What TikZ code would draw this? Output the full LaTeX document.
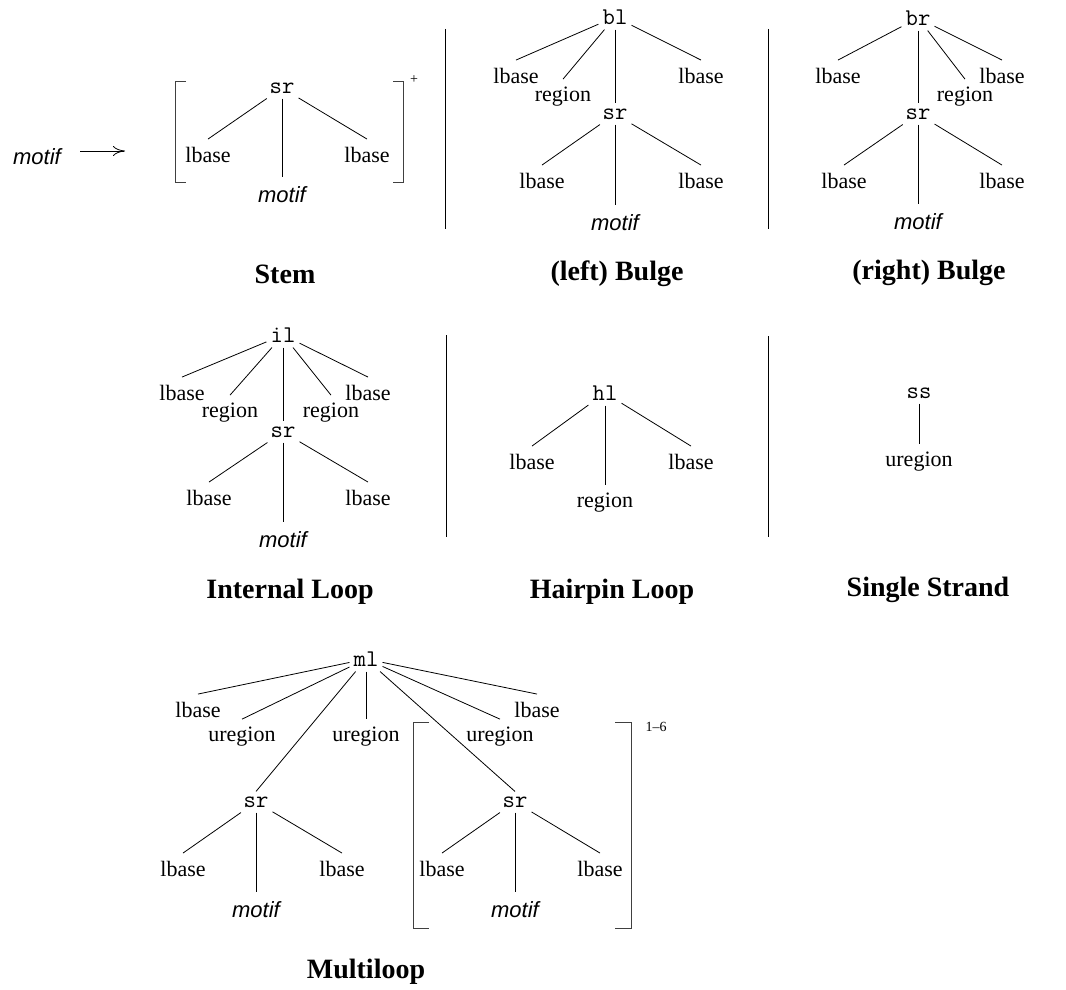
\documentclass[tikz,border=0pt]{standalone}
\usepackage{fontspec}
\setmainfont{Liberation Serif}
\newfontfamily\motiffamily{Liberation Sans}
\usetikzlibrary{arrows.meta}

\newcommand{\lblsize}{\fontsize{22pt}{24pt}\selectfont}
\newcommand{\ntsize}{\fontsize{24pt}{26pt}\selectfont}
\newcommand{\ttlsize}{\fontsize{28pt}{30pt}\selectfont}
\newcommand{\supsize}{\fontsize{14pt}{16pt}\selectfont}

\begin{document}
\begin{tikzpicture}[
    x=1pt, y=-1pt,
    lbl/.style={font=\lblsize, inner xsep=2pt, inner ysep=8pt},
    nt/.style={font=\ntsize\ttfamily, inner xsep=4pt, inner ysep=5pt},
    mot/.style={font=\lblsize\motiffamily\itshape, inner xsep=2pt, inner ysep=10pt},
    ttl/.style={font=\ttlsize\bfseries},
    supr/.style={font=\supsize, inner sep=0pt},
    branch/.style={line width=0.8pt},
    divider/.style={line width=0.8pt},
    brk/.style={line width=0.8pt, black!75},
    arrow/.style={line width=0.8pt, -{To[length=12pt, width=10pt]}}
]
\useasboundingbox (0,0) rectangle (1066,990);

% Stem
\node (motifL) [mot] at (37,157) {motif};
\coordinate (arrowStart) at (80,151);
\coordinate (arrowEnd) at (125,151);
\draw[arrow] (arrowStart) -- (arrowEnd);
\node (sr1) [nt] at (282,88) {sr};
\node (lb1a) [lbl] at (208,155) {lbase};
\node (lb1b) [lbl] at (367,155) {lbase};
\node (mo1) [mot] at (282,195) {motif};
\foreach \c in {lb1a, mo1, lb1b} \draw[branch] (sr1) -- (\c.north);
\draw[brk] (186,81) -- (175,81) -- (175,182) -- (186,182);
\draw[brk] (393,81) -- (403,81) -- (403,182) -- (393,182);
\node (plus) [supr] at (414,80) {+};
\node (tStem) [ttl] at (285,274) {Stem};

\draw[divider] (445,29) -- (445,229);

% (left) Bulge
\node (bl) [nt] at (615,17) {bl};
\node (lb2a) [lbl] at (516,76) {lbase};
\node (rg2) [lbl] at (563,97) {region};
\node (lb2b) [lbl] at (701,76) {lbase};
\node (sr2) [nt] at (615,114) {sr};
\node (lb2c) [lbl] at (542,181) {lbase};
\node (lb2d) [lbl] at (701,181) {lbase};
\node (mo2) [mot] at (615,223) {motif};
\foreach \c in {lb2a, rg2, sr2, lb2b} \draw[branch] (bl) -- (\c.north);
\foreach \c in {lb2c, mo2, lb2d} \draw[branch] (sr2) -- (\c.north);
\node (tLeft) [ttl] at (617,274) {(left) Bulge};

\draw[divider] (768,29) -- (768,229);

% (right) Bulge
\node (br) [nt] at (918,18) {br};
\node (lb3a) [lbl] at (838,76) {lbase};
\node (rg3) [lbl] at (965,97) {region};
\node (lb3b) [lbl] at (1002,76) {lbase};
\node (sr3) [nt] at (918,114) {sr};
\node (lb3c) [lbl] at (844,181) {lbase};
\node (lb3d) [lbl] at (1002,181) {lbase};
\node (mo3) [mot] at (918,222) {motif};
\foreach \c in {lb3a, sr3, rg3, lb3b} \draw[branch] (br) -- (\c.north);
\foreach \c in {lb3c, mo3, lb3d} \draw[branch] (sr3) -- (\c.north);
\node (tRight) [ttl] at (929,273) {(right) Bulge};

% Internal Loop
\node (il) [nt] at (283,335) {il};
\node (lb4a) [lbl] at (182,393) {lbase};
\node (rg4a) [lbl] at (230,413) {region};
\node (rg4b) [lbl] at (331,413) {region};
\node (lb4b) [lbl] at (368,393) {lbase};
\node (sr4) [nt] at (283,432) {sr};
\node (lb4c) [lbl] at (209,498) {lbase};
\node (lb4d) [lbl] at (368,498) {lbase};
\node (mo4) [mot] at (283,540) {motif};
\foreach \c in {lb4a, rg4a, sr4, rg4b, lb4b} \draw[branch] (il) -- (\c.north);
\foreach \c in {lb4c, mo4, lb4d} \draw[branch] (sr4) -- (\c.north);
\node (tInternal) [ttl] at (290,592) {Internal Loop};

\draw[divider] (446,335) -- (446,537);

% Hairpin Loop
\node (hl) [nt] at (605,393) {hl};
\node (lb5a) [lbl] at (532,462) {lbase};
\node (lb5b) [lbl] at (691,462) {lbase};
\node (rg5) [lbl] at (605,503) {region};
\foreach \c in {lb5a, rg5, lb5b} \draw[branch] (hl) -- (\c.north);
\node (tHairpin) [ttl] at (612,592) {Hairpin Loop};

\draw[divider] (768,336) -- (768,537);

% Single Strand
\node (ss) [nt] at (919,393) {ss};
\node (ur6) [lbl] at (919,462) {uregion};
\draw[branch] (ss) -- (ur6.north);
\node (tSingle) [ttl] at (928,590) {Single Strand};

% Multiloop
\node (ml) [nt] at (366,659) {ml};
\node (lb7a) [lbl] at (198,710) {lbase};
\node (ur7a) [lbl] at (242,737) {uregion};
\node (ur7b) [lbl] at (366,737) {uregion};
\node (ur7c) [lbl] at (500,737) {uregion};
\node (lb7b) [lbl] at (537,710) {lbase};
\node (sr7a) [nt] at (256,802) {sr};
\node (lb7c) [lbl] at (183,869) {lbase};
\node (lb7d) [lbl] at (342,869) {lbase};
\node (mo7a) [mot] at (256,910) {motif};
\node (sr7b) [nt] at (515,802) {sr};
\node (lb7e) [lbl] at (442,869) {lbase};
\node (lb7f) [lbl] at (600,869) {lbase};
\node (mo7b) [mot] at (515,910) {motif};
\foreach \c in {lb7a, ur7a, sr7a, ur7b, sr7b, ur7c, lb7b} \draw[branch] (ml) -- (\c.north);
\foreach \c in {lb7c, mo7a, lb7d} \draw[branch] (sr7a) -- (\c.north);
\foreach \c in {lb7e, mo7b, lb7f} \draw[branch] (sr7b) -- (\c.north);
\draw[brk] (429,722) -- (413,722) -- (413,928) -- (429,928);
\draw[brk] (615,722) -- (631,722) -- (631,928) -- (615,928);
\node (range) [supr] at (656,727) {1--6};
\node (tMulti) [ttl] at (366,972) {Multiloop};

\end{tikzpicture}
\end{document}
